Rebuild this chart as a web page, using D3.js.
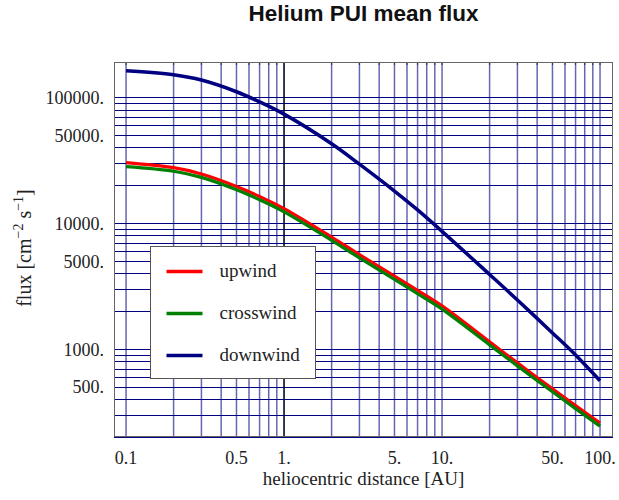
<!DOCTYPE html>
<html>
<head>
<meta charset="utf-8">
<script src="https://cdn.jsdelivr.net/npm/d3@7"></script>
<style>
  body { margin: 0; background: #fff; }
  svg { display: block; }
  .tick-label { font-family: "Liberation Serif", "Times New Roman", serif; font-size: 18px; fill: #222; }
  .axis-title { font-family: "Liberation Serif", "Times New Roman", serif; font-size: 19px; fill: #222; }
  .legend-text { font-family: "Liberation Serif", "Times New Roman", serif; font-size: 19px; fill: #222; }
  .title { font-family: "Liberation Sans", Arial, sans-serif; font-size: 22.5px; font-weight: bold; fill: #111; }
</style>
</head>
<body>
<svg class="js-chart" width="619" height="500"></svg>
<script>
// heliocentric distance [AU]
var distance = [0.1, 0.2, 0.3, 0.5, 0.7, 1, 2, 3, 5, 7, 10, 20, 30, 50, 70, 100];

// mean flux [cm^-2 s^-1]
var upwind    = [30300, 27600, 24600, 19590, 16290, 13060, 7760, 5620, 3800, 2920, 2200, 1140, 776, 483, 355, 258];
var crosswind = [28120, 25850, 23120, 18450, 15350, 12300, 7310, 5300, 3580, 2750, 2075, 1079, 735, 457, 336, 244];
var downwind  = [162600, 151000, 137100, 110700, 92000, 73500, 42760, 29440, 18000, 12740, 8610, 3910, 2455, 1343, 897, 560];

var seriesNames  = ['upwind', 'crosswind', 'downwind'];
var seriesColors = ['#ff0000', '#008000', '#000080'];

var xTickValues = [0.1, 0.5, 1, 5, 10, 50, 100];
var xTickLabels = ['0.1', '0.5', '1.', '5.', '10.', '50.', '100.'];
var yTickValues = [500, 1000, 5000, 10000, 50000, 100000];
var yTickLabels = ['500.', '1000.', '5000.', '10000.', '50000.', '100000.'];

(function drawChart(d3) {
  var svg = d3.select('.js-chart');
  var left = 114, right = 613, top = 62, bottom = 437;

  var x = d3.scaleLog().domain([0.0839, 120.8]).range([left, right]);
  var y = d3.scaleLog().domain([200, 190800]).range([bottom, top]);

  // title
  svg.append('text')
    .attr('class', 'title')
    .attr('x', (left + right) / 2)
    .attr('y', 21)
    .attr('text-anchor', 'middle')
    .text('Helium PUI mean flux');

  var plot = svg.append('g');

  // grid lines, vertical ones are lighter
  var xGrid = x.ticks().filter(function (v) { return v >= 0.0999 && v <= 100.01; });
  var yGrid = y.ticks();

  plot.selectAll('line.vgrid')
    .data(xGrid)
    .enter().append('line')
    .attr('class', 'vgrid')
    .attr('x1', function (d) { return x(d); })
    .attr('x2', function (d) { return x(d); })
    .attr('y1', top)
    .attr('y2', bottom)
    .attr('stroke', '#000080')
    .attr('stroke-opacity', 0.6)
    .attr('stroke-width', 1.5);

  plot.selectAll('line.hgrid')
    .data(yGrid)
    .enter().append('line')
    .attr('class', 'hgrid')
    .attr('x1', left)
    .attr('x2', right)
    .attr('y1', function (d) { return Math.round(y(d)) + 0.5; })
    .attr('y2', function (d) { return Math.round(y(d)) + 0.5; })
    .attr('stroke', '#000080')
    .attr('stroke-width', 1);

  // axis line at x = 1
  plot.append('line')
    .attr('x1', x(1)).attr('x2', x(1))
    .attr('y1', top).attr('y2', bottom)
    .attr('stroke', '#000')
    .attr('stroke-width', 1.2);

  // curves
  var allSeries = [upwind, crosswind, downwind];
  var line = d3.line()
    .x(function (d, i) { return x(distance[i]); })
    .y(function (d) { return y(d); })
    .curve(d3.curveCatmullRom.alpha(0.5));

  allSeries.forEach(function (values, i) {
    plot.append('path')
      .attr('d', line(values))
      .attr('fill', 'none')
      .attr('stroke', seriesColors[i])
      .attr('stroke-width', i === 2 ? 3.5 : 3.2)
      .attr('stroke-linejoin', 'round');
  });

  // frame with small ticks
  var frame = svg.append('g');
  frame.selectAll('line.ftick')
    .data(xGrid)
    .enter().append('line')
    .attr('x1', function (d) { return x(d); })
    .attr('x2', function (d) { return x(d); })
    .attr('y1', top)
    .attr('y2', top + 3)
    .attr('stroke', '#333')
    .attr('stroke-width', 1);
  frame.append('rect')
    .attr('x', left + 0.5).attr('y', top + 0.5)
    .attr('width', right - left - 1).attr('height', bottom - top - 1)
    .attr('fill', 'none')
    .attr('stroke', '#666')
    .attr('stroke-width', 1);

  // tick labels
  svg.selectAll('text.xtick')
    .data(xTickValues)
    .enter().append('text')
    .attr('class', 'tick-label xtick')
    .attr('x', function (d) { return x(d); })
    .attr('y', 464)
    .attr('text-anchor', 'middle')
    .text(function (d, i) { return xTickLabels[i]; });

  svg.selectAll('text.ytick')
    .data(yTickValues)
    .enter().append('text')
    .attr('class', 'tick-label ytick')
    .attr('x', 104)
    .attr('y', function (d) { return y(d) + 6.5; })
    .attr('text-anchor', 'end')
    .text(function (d, i) { return yTickLabels[i]; });

  // axis titles
  svg.append('text')
    .attr('class', 'axis-title')
    .attr('x', (left + right) / 2)
    .attr('y', 485)
    .attr('text-anchor', 'middle')
    .text('heliocentric distance [AU]');

  var yTitle = svg.append('text')
    .attr('class', 'axis-title')
    .attr('text-anchor', 'middle')
    .style('font-size', '20px')
    .attr('transform', 'translate(31,248) rotate(-90)');
  yTitle.append('tspan').text('flux [cm');
  yTitle.append('tspan').attr('dy', -8).attr('font-size', 14).text('\u22122');
  yTitle.append('tspan').attr('dy', 8).text(' s');
  yTitle.append('tspan').attr('dy', -8).attr('font-size', 14).text('\u22121');
  yTitle.append('tspan').attr('dy', 8).text(']');

  // legend
  var legend = svg.append('g').attr('transform', 'translate(150.5,246.5)');
  legend.append('rect')
    .attr('width', 165)
    .attr('height', 132)
    .attr('fill', '#fff')
    .attr('stroke', '#555')
    .attr('stroke-width', 1);

  seriesNames.forEach(function (name, i) {
    var ly = 25 + i * 42;
    legend.append('line')
      .attr('x1', 16).attr('x2', 52)
      .attr('y1', ly).attr('y2', ly)
      .attr('stroke', seriesColors[i])
      .attr('stroke-width', 3.5);
    legend.append('text')
      .attr('class', 'legend-text')
      .attr('x', 69)
      .attr('y', ly + 5)
      .text(name);
  });
}(d3));
</script>
</body>
</html>
